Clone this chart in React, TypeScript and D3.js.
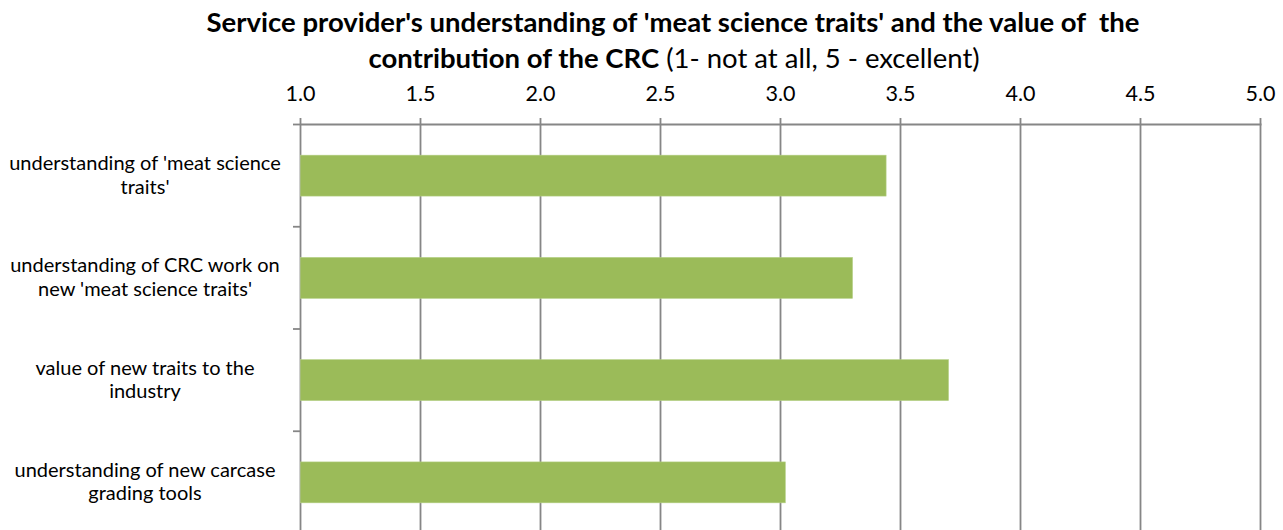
import React from "react";
import * as d3 from "d3";

const categories = [
  ["understanding of 'meat science", "traits'"],
  ["understanding of CRC work on", "new 'meat science traits'"],
  ["value of new traits to the", "industry"],
  ["understanding of new carcase", "grading tools"],
];
const values = [3.44, 3.3, 3.7, 3.02];
const xTicks = [1.0, 1.5, 2.0, 2.5, 3.0, 3.5, 4.0, 4.5, 5.0];
const titleLine1 = "Service provider's understanding of 'meat science traits' and the value of  the";
const titleLine2Bold = "contribution of the CRC";
const titleLine2Rest = " (1- not at all, 5 - excellent)";

const W = 1283;
const H = 530;
const FONT = "Lato, 'Open Sans', sans-serif";

export default function App() {
  const x = d3.scaleLinear().domain([1, 5]).range([300.5, 1260.5]);
  const ids = categories.map((_, i) => String(i));
  const y = d3.scaleBand().domain(ids).range([124.5, 533.5]).paddingInner(0.6).paddingOuter(0.3);
  const bandStep = y.step();
  const bandTop = 124.5;
  const grid = "#868686";

  return (
    <div style={{ position: "absolute", left: 0, top: 0 }}>
      <svg width={W} height={H} style={{ display: "block", background: "#fff" }}>
        <text x={673} y={32} textAnchor="middle" fontFamily={FONT} fontWeight="bold" fontSize={27.5} fill="#000" style={{ whiteSpace: "pre" }}>
          {titleLine1}
        </text>
        <text x={674} y={68} textAnchor="middle" fontFamily={FONT} fontSize={27.5} fill="#000" style={{ whiteSpace: "pre" }}>
          <tspan fontWeight="bold">{titleLine2Bold}</tspan>
          <tspan>{titleLine2Rest}</tspan>
        </text>
        {xTicks.map((t) => (
          <g key={t}>
            <line x1={x(t)} x2={x(t)} y1={118} y2={H + 5} stroke={grid} strokeWidth={1.8} />
            <text x={x(t)} y={101} textAnchor="middle" fontFamily={FONT} fontSize={21.5} fill="#000">
              {d3.format(".1f")(t)}
            </text>
          </g>
        ))}
        <line x1={300.5} x2={1261.5} y1={124.5} y2={124.5} stroke={grid} strokeWidth={1.8} />
        {[0, 1, 2, 3, 4].map((i) => (
          <line key={i} x1={293} x2={300.5} y1={bandTop + i * bandStep} y2={bandTop + i * bandStep} stroke={grid} strokeWidth={1.8} />
        ))}
        {values.map((v, i) => (
          <rect key={i} x={x(1)} y={y(ids[i])} width={x(v) - x(1)} height={y.bandwidth()} fill="#9BBB59" stroke="#B3CF84" strokeWidth={0.6} />
        ))}
        {categories.map((lines, i) => {
          const cy = (y(ids[i]) as number) + y.bandwidth() / 2;
          return (
            <text key={i} textAnchor="middle" fontFamily={FONT} fontSize={20} fill="#000">
              {lines.map((l, j) => (
                <tspan key={j} x={145} y={cy - 5.5 + j * 23.5}>
                  {l}
                </tspan>
              ))}
            </text>
          );
        })}
      </svg>
    </div>
  );
}
